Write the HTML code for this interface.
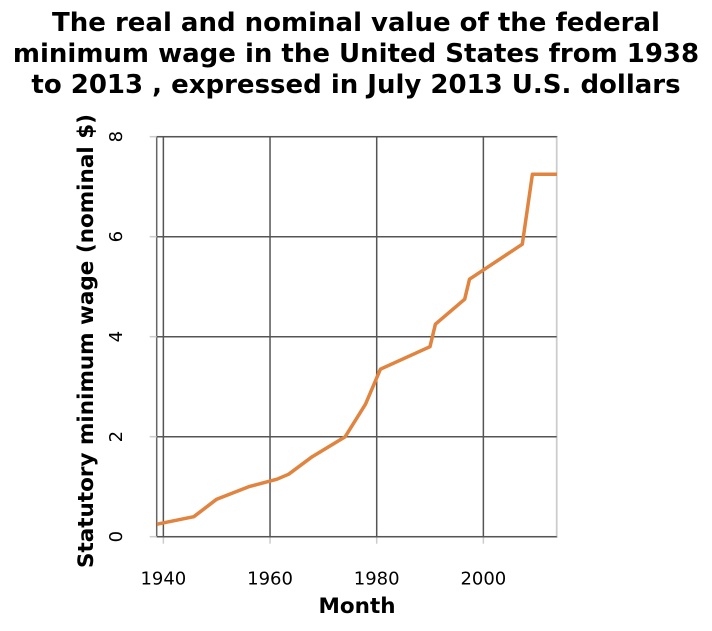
<!DOCTYPE html>
<html><head><meta charset="utf-8"><style>
body{margin:0;background:#fff;width:712px;height:626px;overflow:hidden;font-family:"Liberation Sans","DejaVu Sans",sans-serif}
</style></head><body>
<svg width="712" height="626">
<g id="title" font-weight="bold" font-size="26" text-anchor="middle" fill="#000" font-family="DejaVu Sans, Liberation Sans, sans-serif">
<text x="356" y="31">The real and nominal value of the federal</text>
<text x="356" y="62">minimum wage in the United States from 1938</text>
<text x="356" y="93">to 2013 , expressed in July 2013 U.S. dollars</text>
</g>
<g id="grid"></g>
<g id="xt"></g>
<g id="yt"></g>
<path id="line" fill="none" stroke="#e0843f" stroke-width="3.5" stroke-linejoin="round"/>
<text x="357" y="613" font-weight="bold" font-size="21.5" text-anchor="middle" font-family="DejaVu Sans, Liberation Sans, sans-serif">Month</text>
<text transform="translate(93,341) rotate(-90)" font-weight="bold" font-size="21.5" text-anchor="middle" font-family="DejaVu Sans, Liberation Sans, sans-serif">Statutory minimum wage (nominal $)</text>
</svg>
<script>
const years=[1938.8,1945.7,1950,1956,1961.3,1963.5,1967.9,1974.1,1977.9,1980.7,1990,1991,1996.5,1997.4,2007.3,2009.2,2013.8];
const wages=[0.25,0.40,0.75,1.00,1.15,1.25,1.60,2.00,2.65,3.35,3.80,4.25,4.75,5.15,5.85,7.25,7.25];
const xTicks=[1940,1960,1980,2000];
const yTicks=[0,2,4,6,8];
const L=156.7,R=556.7,T=136.7,B=536.7,x0=1938.75,x1=2013.75,y1=8;
const X=v=>L+(v-x0)/(x1-x0)*(R-L), Y=v=>B-v/y1*(B-T);
const ns="http://www.w3.org/2000/svg";
function mk(p,t,a){const e=document.createElementNS(ns,t);for(const k in a)e.setAttribute(k,a[k]);document.getElementById(p).appendChild(e);return e;}
let e=mk('grid','rect',{x:L,y:T,width:R-L,height:B-T,fill:'none',stroke:'#666','stroke-width':1.5});


mk('grid','line',{x1:R,x2:R,y1:T,y2:B,stroke:'#ccc','stroke-width':1.5});
xTicks.forEach(v=>{
 let g=mk('grid','line',{x1:X(v),x2:X(v),y1:T,y2:B,stroke:'#555','stroke-width':1.5});
 
 
 mk('grid','line',{x1:X(v),x2:X(v),y1:B,y2:B+7,stroke:'#ccc','stroke-width':1.5});
 let t=mk('xt','text',{x:X(v),y:B+48,'font-size':18,'text-anchor':'middle','font-family':'DejaVu Sans, Liberation Sans, sans-serif'});
 t.textContent=v;
 
 
});
yTicks.forEach(v=>{
 let g=mk('grid','line',{x1:L,x2:R,y1:Y(v),y2:Y(v),stroke:'#555','stroke-width':1.5});
 
 
 mk('grid','line',{x1:L-7,x2:L,y1:Y(v),y2:Y(v),stroke:'#ccc','stroke-width':1.5});
 let t=mk('yt','text',{transform:`translate(122,${Y(v)}) rotate(-90)`,'font-size':18,'text-anchor':'middle','font-family':'DejaVu Sans, Liberation Sans, sans-serif'});
 t.textContent=v;
 
 
});
document.getElementById('line').setAttribute('d',years.map((y,i)=>(i?'L':'M')+X(y).toFixed(1)+','+Y(wages[i]).toFixed(1)).join(''));
</script>
</body></html>
